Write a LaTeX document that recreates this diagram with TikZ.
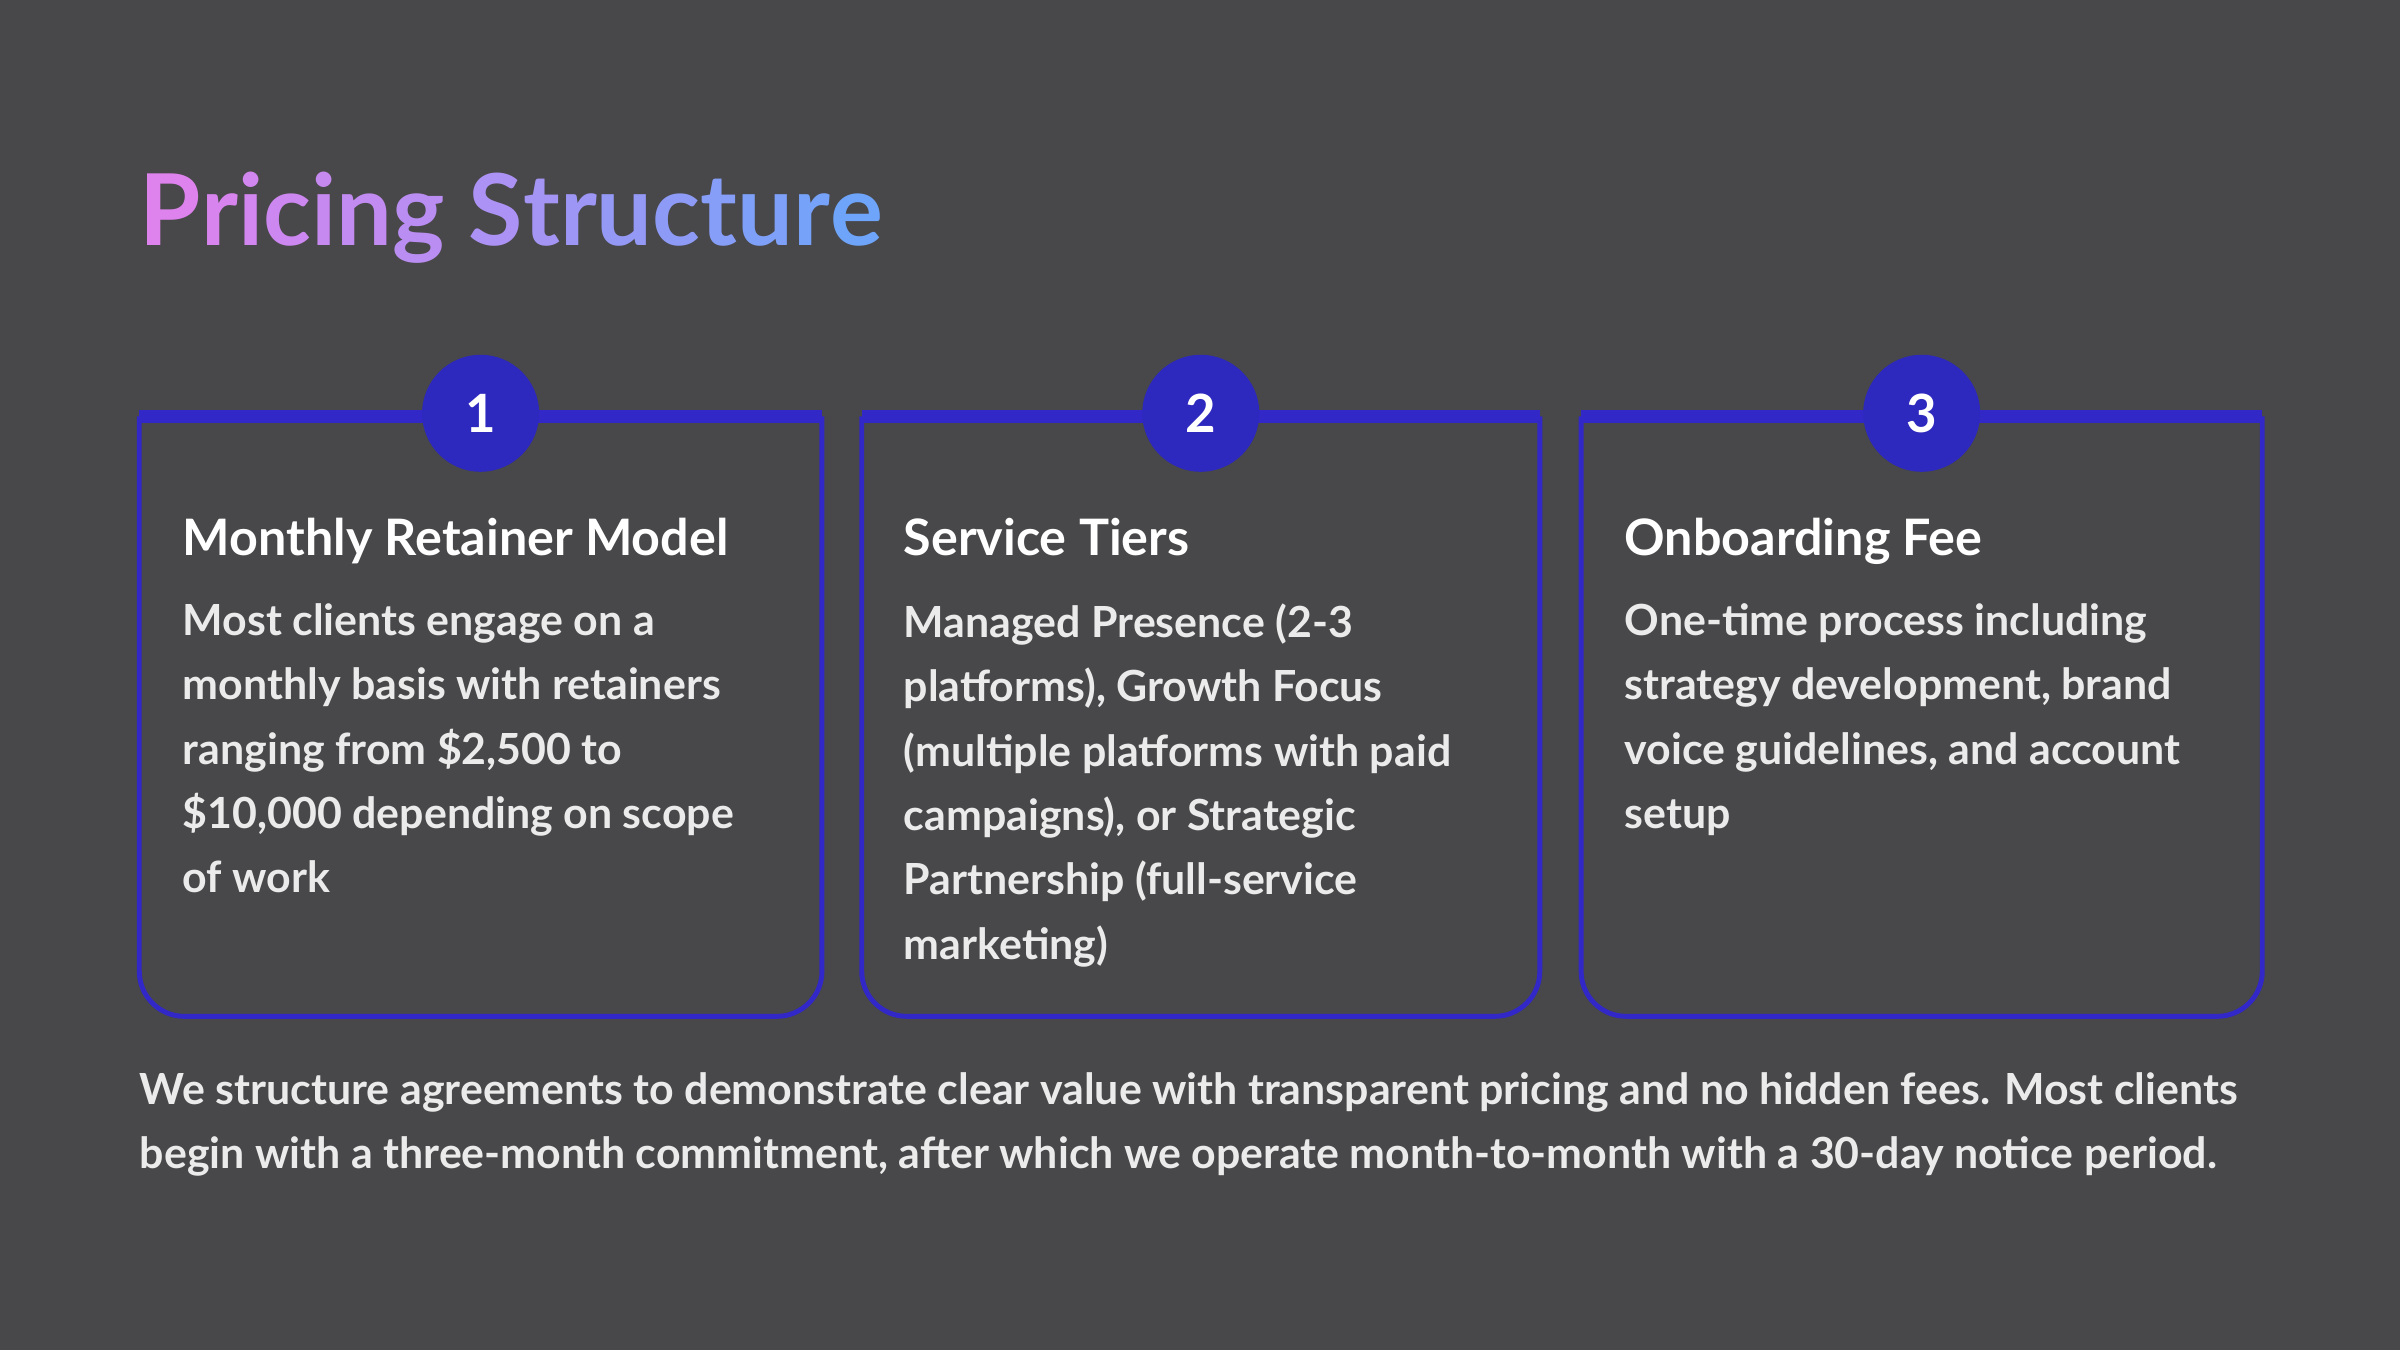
\documentclass[tikz,border=0pt]{standalone}
\usepackage{fontspec}
\setmainfont{Lato}
\usetikzlibrary{positioning}
\definecolor{bgGray}{RGB}{72,71,73}
\definecolor{edgeBlue}{RGB}{50,40,200}
\definecolor{dotBlue}{RGB}{45,40,190}
\definecolor{titleA}{RGB}{222,130,238}
\definecolor{titleB}{RGB}{110,165,250}
\newcommand{\tc}[2]{\textcolor{titleB!#1!titleA}{#2}}
\begin{document}
\begin{tikzpicture}[
  x=0.01531cm, y=-0.01531cm,
  card/.style={draw=edgeBlue, line width=1.4pt, rounded corners=0.45cm},
  cardtop/.style={draw=edgeBlue, line width=3.6pt},
  badge/.style={circle, fill=dotBlue, minimum size=1.17cm, inner sep=0pt, text=white, font=\fontsize{15}{18}\selectfont\bfseries},
  heading/.style={anchor=base west, inner sep=0pt, text=white, font=\fontsize{14.3}{18}\selectfont\bfseries},
  body/.style={anchor=north west, align=left, text=white!92!black, font=\fontsize{12.2}{18.3}\selectfont\bfseries, inner sep=0pt}
]
\fill[bgGray] (0,0) rectangle (1568,882);
\useasboundingbox (0,0) rectangle (1568,882);

% title
\node[anchor=west, inner sep=0pt, font=\fontsize{28.2}{34}\selectfont\bfseries] (title) at (91,142)
  {\tc{0}{P}\tc{6}{r}\tc{11}{i}\tc{15}{c}\tc{21}{i}\tc{26}{n}\tc{32}{g} \tc{45}{S}\tc{52}{t}\tc{58}{r}\tc{65}{u}\tc{72}{c}\tc{79}{t}\tc{86}{u}\tc{93}{r}\tc{100}{e}};

% cards
\foreach \xa/\xb/\n in {91/537/1, 563/1006/2, 1033/1478/3}{
  \draw[card] (\xa,272) -- (\xa,664) -- (\xb,664) -- (\xb,272);
  \draw[cardtop] (\xa,272) -- (\xb,272);
  \node[badge] (badge\n) at ({(\xa+\xb)/2},270) {\n};
}

\node[heading] (headA) at (119,363) {Monthly Retainer Model};
\node[heading] (headB) at (590,363) {Service Tiers};
\node[heading] (headC) at (1061,363) {Onboarding Fee};

\node[body] (bodyA) at (119,394) {Most clients engage on a\\monthly basis with retainers\\ranging from \$2,500 to\\\$10,000 depending on scope\\of work};
\node[body] (bodyB) at (590,394) {Managed Presence (2-3\\platforms), Growth Focus\\(multiple platforms with paid\\campaigns), or Strategic\\Partnership (full-service\\marketing)};
\node[body] (bodyC) at (1061,394) {One-time process including\\strategy development, brand\\voice guidelines, and account\\setup};

% footer note
\node[body] (note) at (91,700) {We structure agreements to demonstrate clear value with transparent pricing and no hidden fees. Most clients\\begin with a three-month commitment, after which we operate month-to-month with a 30-day notice period.};
\end{tikzpicture}
\end{document}
